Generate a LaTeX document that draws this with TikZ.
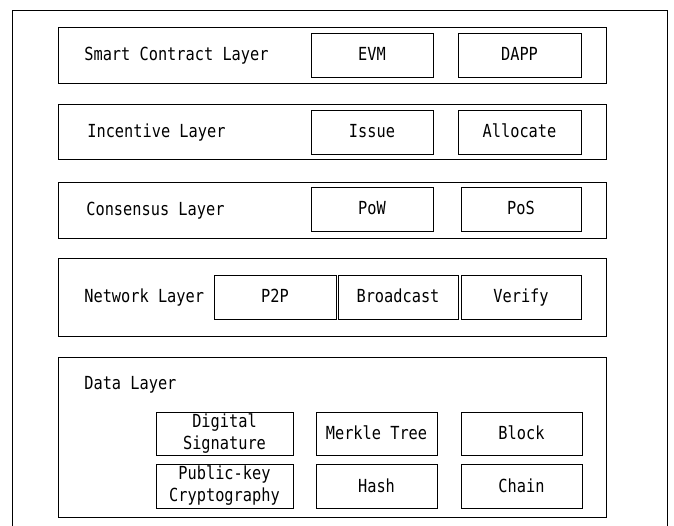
\documentclass[tikz,border=0pt]{standalone}
\usepackage{fontspec}
\setmainfont{DejaVu Sans Mono}[FakeStretch=0.85]

\begin{document}
\begin{tikzpicture}[x=1pt, y=-1pt, line width=0.7pt,
    every node/.style={font=\fontsize{18}{22}\selectfont, inner sep=0pt},
    layer/.style={draw, minimum width=548pt},
    cell/.style={draw, minimum width=122pt, minimum height=44pt},
    item/.style={cell, text height=12pt, text depth=0pt},
    pair/.style={cell, align=center},
    title/.style={anchor=west, text height=12pt, text depth=0pt}]
    \useasboundingbox (0, 0) rectangle (674, 526);
    \draw (12, 530) -- (12, 10) -- (667, 10) -- (667, 530);

    % layers
    \node[layer, minimum height=56pt] at (332, 55)(smart){};
    \node[layer, minimum height=55pt] at (332, 131.5)(incentive){};
    \node[layer, minimum height=56pt] at (332, 210)(consensus){};
    \node[layer, minimum height=78pt] at (332, 297)(network){};
    \node[layer, minimum height=160pt] at (332, 437)(data){};

    \node[title] at (84, 55)(smartT){Smart Contract Layer};
    \node[title] at (87, 131.5)(incentiveT){Incentive Layer};
    \node[title] at (86, 210)(consensusT){Consensus Layer};
    \node[title] at (84, 297)(networkT){Network Layer};
    \node[title] at (84, 383)(dataT){Data Layer};

    % components
    \node[item] at (372, 55)(evm){EVM};
    \node[item, minimum width=123pt] at (519.5, 55)(dapp){DAPP};
    \node[item] at (372, 132)(issue){Issue};
    \node[item, minimum width=123pt] at (519.5, 132)(allocate){Allocate};
    \node[item] at (372, 209)(pow){PoW};
    \node[item, minimum width=120pt] at (521, 209)(pos){PoS};

    \node[item] at (275, 297)(p2p){P2P};
    \node[item, minimum width=120pt] at (398, 297)(broadcast){Broadcast};
    \node[item, minimum width=120pt] at (521, 297)(verify){Verify};

    \node[pair, minimum width=137pt, minimum height=43pt] at (224.5, 433.5)(signature){Digital\\Signature};
    \node[pair, minimum width=137pt] at (224.5, 486)(pubkey){Public-key\\Cryptography};
    \node[item, minimum width=121pt, minimum height=43pt] at (376.5, 433.5)(merkle){Merkle Tree};
    \node[item, minimum width=121pt] at (376.5, 486)(hash){Hash};
    \node[item, minimum width=121pt, minimum height=43pt] at (521.5, 433.5)(block){Block};
    \node[item, minimum width=121pt] at (521.5, 486)(chain){Chain};
\end{tikzpicture}
\end{document}
